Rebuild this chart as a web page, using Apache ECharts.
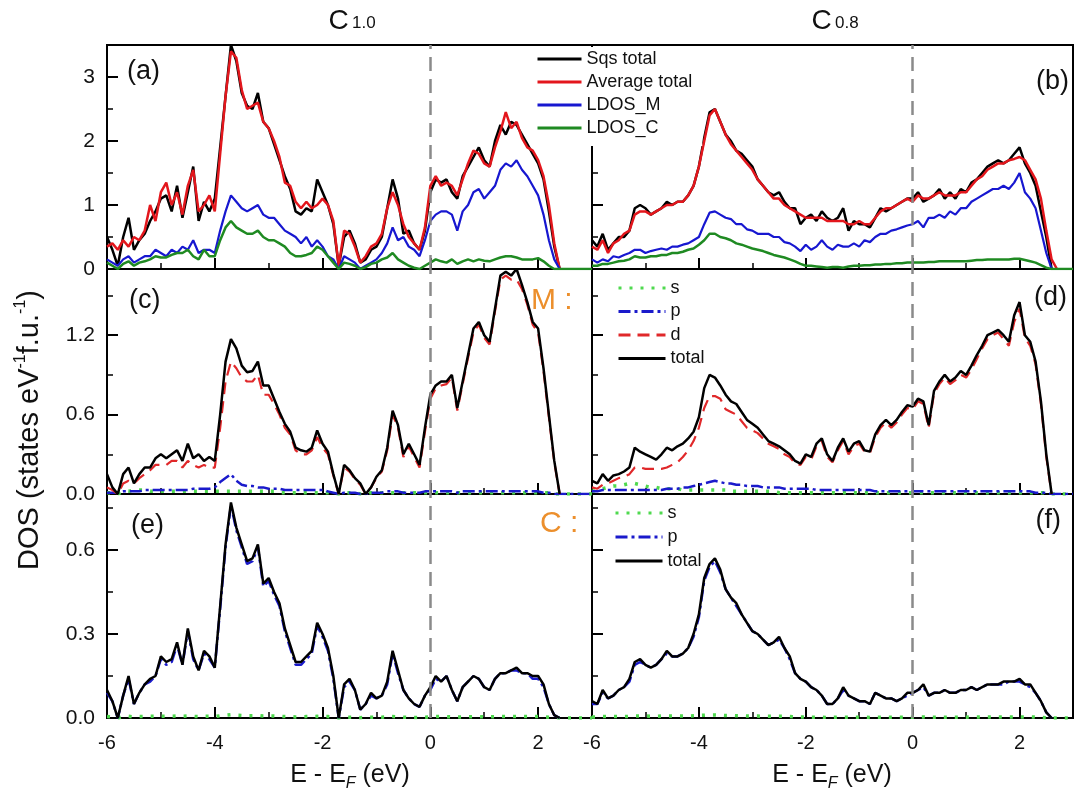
<!DOCTYPE html>
<html>
<head>
<meta charset="utf-8">
<script src="https://cdn.jsdelivr.net/npm/echarts@6/dist/echarts.min.js"></script>
<style>html,body{margin:0;padding:0;background:#fff;}#chart{width:1077px;height:803px;}</style>
</head>
<body>
<div id="chart"></div>
<script>
// Energy grid (E - E_F, eV)
const E = [-6.0,-5.9,-5.8,-5.7,-5.6,-5.5,-5.4,-5.3,-5.2,-5.1,
 -5.0,-4.9,-4.8,-4.7,-4.6,-4.5,-4.4,-4.3,-4.2,-4.1,
 -4.0,-3.9,-3.8,-3.7,-3.6,-3.5,-3.4,-3.3,-3.2,-3.1,
 -3.0,-2.9,-2.8,-2.7,-2.6,-2.5,-2.4,-2.3,-2.2,-2.1,
 -2.0,-1.9,-1.8,-1.7,-1.6,-1.5,-1.4,-1.3,-1.2,-1.1,
 -1.0,-0.9,-0.8,-0.7,-0.6,-0.5,-0.4,-0.3,-0.2,-0.1,
 0.0,0.1,0.2,0.3,0.4,0.5,0.6,0.7,0.8,0.9,
 1.0,1.1,1.2,1.3,1.4,1.5,1.6,1.7,1.8,1.9,
 2.0,2.1,2.2,2.3,2.4,2.5,2.6,2.7,2.8,2.9,3.0];

// x tick labels / y tick settings
const xTickLabels = ['-6','-4','-2','0','2'];
const yMax = [3.5, 1.7, 0.8];
const yMajor = [1, 0.6, 0.3];
const yMinor = [0.5, 0.3, 0.15];
const yDecimals = [0, 1, 1];

// (a) C1.0 totals
const aSqs = [0.5,0.3,0.05,0.5,0.8,0.3,0.45,0.55,0.75,0.9,
 1.1,1.15,0.9,1.3,0.8,1.2,1.6,0.75,1.05,0.9,
 1.1,1.9,2.7,3.5,3.25,2.75,2.55,2.5,2.75,2.3,
 2.2,1.95,1.7,1.45,1.25,0.9,0.85,0.95,0.9,1.4,
 1.2,1.0,0.7,0.05,0.5,0.6,0.4,0.1,0.15,0.3,
 0.35,0.5,0.95,1.4,1.1,0.55,0.6,0.4,0.3,0.6,
 1.2,1.4,1.35,1.4,1.2,1.1,1.45,1.6,1.75,1.9,
 1.7,1.6,2.0,2.25,2.1,2.3,2.25,2.1,1.95,1.8,
 1.65,1.4,0.9,0.35,0.0];
const aAvg = [0.35,0.4,0.3,0.45,0.35,0.5,0.45,0.6,1.0,0.75,
 1.2,1.35,1.0,1.2,0.85,1.3,1.55,0.9,1.0,1.15,
 0.9,1.8,2.7,3.4,3.3,2.8,2.5,2.55,2.6,2.3,
 2.2,2.0,1.75,1.35,1.3,1.05,0.95,1.05,0.95,1.0,
 1.1,1.0,0.75,0.05,0.6,0.55,0.35,0.1,0.2,0.35,
 0.4,0.55,0.95,1.2,1.0,0.7,0.5,0.4,0.3,0.65,
 1.3,1.45,1.3,1.35,1.3,1.15,1.4,1.65,1.85,1.8,
 1.65,1.6,1.9,2.15,2.45,2.2,2.3,2.05,1.9,1.85,
 1.7,1.45,1.0,0.4,0.0];
const aM = [0.15,0.1,0.05,0.15,0.2,0.1,0.15,0.2,0.2,0.3,
 0.25,0.2,0.3,0.25,0.35,0.3,0.45,0.25,0.3,0.3,
 0.25,0.6,0.9,1.15,1.05,0.95,0.9,0.95,1.0,0.85,
 0.8,0.8,0.7,0.6,0.55,0.5,0.4,0.5,0.35,0.45,
 0.35,0.2,0.15,0.0,0.2,0.15,0.1,0.0,0.05,0.1,
 0.15,0.25,0.4,0.65,0.45,0.5,0.35,0.3,0.2,0.45,
 0.75,0.85,0.9,0.9,0.85,0.6,0.9,1.0,1.2,1.25,
 1.1,1.2,1.3,1.55,1.65,1.6,1.7,1.55,1.45,1.3,
 1.15,0.85,0.45,0.15,0.0];
const aC = [0.1,0.05,0.0,0.08,0.12,0.05,0.1,0.12,0.15,0.2,
 0.18,0.18,0.22,0.25,0.25,0.3,0.2,0.15,0.3,0.2,
 0.2,0.45,0.65,0.75,0.65,0.6,0.55,0.55,0.6,0.5,
 0.45,0.45,0.4,0.35,0.25,0.2,0.2,0.22,0.25,0.35,
 0.3,0.2,0.1,0.0,0.1,0.08,0.05,0.0,0.03,0.08,
 0.1,0.15,0.18,0.25,0.15,0.1,0.05,0.02,0.0,0.05,
 0.1,0.15,0.12,0.1,0.15,0.08,0.12,0.15,0.12,0.15,
 0.13,0.12,0.15,0.18,0.2,0.2,0.18,0.15,0.15,0.15,
 0.17,0.12,0.05,0.0,0,0,0,0,0,0,0];

// (b) C0.8 totals
const bSqs = [0.45,0.35,0.55,0.3,0.4,0.5,0.5,0.6,0.95,1.0,
 0.95,0.85,0.9,0.95,1.05,1.0,1.05,1.05,1.15,1.3,
 1.6,2.05,2.45,2.5,2.3,2.1,2.0,1.85,1.8,1.7,
 1.6,1.4,1.3,1.2,1.15,1.2,1.05,0.95,0.95,0.7,
 0.8,0.85,0.75,0.9,0.8,0.75,0.8,0.95,0.6,0.75,
 0.7,0.7,0.65,0.8,0.95,0.9,0.95,1.0,1.05,1.1,
 1.1,1.2,1.05,1.1,1.15,1.25,1.1,1.2,1.1,1.25,
 1.2,1.35,1.4,1.5,1.6,1.65,1.7,1.65,1.7,1.8,
 1.9,1.65,1.5,1.3,0.9,0.5,0.0];
const bAvg = [0.35,0.3,0.45,0.25,0.4,0.45,0.55,0.6,0.85,0.9,
 0.9,0.85,0.9,0.95,1.0,1.0,1.05,1.05,1.15,1.3,
 1.6,2.0,2.4,2.5,2.3,2.1,1.95,1.85,1.75,1.65,
 1.55,1.4,1.3,1.2,1.1,1.1,1.0,0.95,0.9,0.85,
 0.8,0.8,0.8,0.8,0.75,0.75,0.75,0.75,0.7,0.7,
 0.75,0.7,0.7,0.8,0.9,0.95,0.95,1.0,1.05,1.1,
 1.05,1.15,1.1,1.1,1.15,1.2,1.15,1.15,1.15,1.2,
 1.2,1.3,1.4,1.45,1.55,1.6,1.65,1.65,1.7,1.72,
 1.75,1.7,1.55,1.4,1.1,0.6,0.15,0.0];
const bM = [0.15,0.1,0.15,0.12,0.2,0.18,0.22,0.25,0.3,0.3,
 0.25,0.28,0.3,0.32,0.3,0.35,0.35,0.38,0.4,0.45,
 0.5,0.7,0.88,0.9,0.85,0.8,0.78,0.7,0.7,0.62,
 0.6,0.55,0.55,0.55,0.5,0.5,0.42,0.4,0.35,0.28,
 0.38,0.3,0.35,0.45,0.35,0.3,0.38,0.35,0.35,0.4,
 0.35,0.45,0.42,0.5,0.55,0.55,0.6,0.62,0.65,0.68,
 0.7,0.75,0.65,0.8,0.8,0.85,0.8,0.9,0.85,0.95,
 0.95,1.05,1.1,1.15,1.2,1.25,1.25,1.3,1.25,1.35,
 1.5,1.2,1.1,0.95,0.6,0.25,0.0];
const bC = [0.05,0.05,0.08,0.08,0.1,0.12,0.13,0.15,0.2,0.18,
 0.18,0.2,0.2,0.22,0.22,0.25,0.25,0.27,0.3,0.32,
 0.38,0.45,0.55,0.55,0.5,0.48,0.45,0.4,0.38,0.35,
 0.32,0.3,0.28,0.25,0.22,0.2,0.18,0.15,0.12,0.08,
 0.05,0.05,0.04,0.03,0.02,0.03,0.03,0.02,0.04,0.05,
 0.05,0.06,0.06,0.07,0.07,0.08,0.08,0.09,0.09,0.1,
 0.1,0.1,0.1,0.11,0.11,0.12,0.12,0.12,0.12,0.12,
 0.12,0.13,0.14,0.14,0.15,0.15,0.15,0.15,0.15,0.16,
 0.16,0.14,0.12,0.1,0.06,0.02,0,0,0,0,0];

// (c) M in C1.0
const cS = [0.01,0.01,0.0,0.02,0.02,0.03,0.03,0.03,0.02,0.02,
 0.02,0.02,0.02,0.02,0.02,0.02,0.02,0.02,0.02,0.02,
 0.02,0.02,0.02,0.02,0.02,0.02,0.02,0.02,0.02,0.02,
 0.02,0.02,0.01,0.01,0.01,0.01,0.01,0.01,0.01,0.01,
 0.01,0.01,0.01,0.0,0.01,0.01,0.01,0.0,0.0,0.01,
 0.01,0.01,0.01,0.01,0.01,0.01,0.01,0.01,0.01,0.01,
 0.01,0.01,0.01,0.01,0.01,0.01,0.01,0.01,0.01,0.01,
 0.01,0.01,0.01,0.01,0.01,0.01,0.01,0.01,0.01,0.01,
 0.01,0.01,0.01,0.0,0,0,0,0,0,0,0];
const cP = [0.01,0.01,0.01,0.02,0.02,0.02,0.02,0.03,0.03,0.03,
 0.03,0.03,0.03,0.03,0.03,0.03,0.04,0.04,0.04,0.04,
 0.05,0.09,0.12,0.15,0.1,0.07,0.06,0.06,0.05,0.05,
 0.04,0.04,0.04,0.03,0.03,0.03,0.03,0.03,0.03,0.03,
 0.03,0.02,0.01,0.0,0.01,0.01,0.01,0.0,0.0,0.01,
 0.01,0.01,0.02,0.02,0.02,0.01,0.01,0.01,0.01,0.02,
 0.02,0.02,0.02,0.02,0.02,0.01,0.02,0.02,0.02,0.02,
 0.02,0.02,0.02,0.02,0.02,0.02,0.02,0.02,0.02,0.02,
 0.02,0.01,0.01,0.0,0,0,0,0,0,0,0];
const cD = [0.05,0.03,0.0,0.08,0.1,0.08,0.12,0.15,0.18,0.22,
 0.22,0.22,0.25,0.25,0.2,0.25,0.22,0.2,0.22,0.2,
 0.2,0.5,0.85,1.0,0.95,0.88,0.85,0.85,0.9,0.75,
 0.75,0.68,0.6,0.5,0.45,0.33,0.3,0.3,0.33,0.43,
 0.35,0.3,0.14,0.0,0.2,0.17,0.11,0.07,0.0,0.05,
 0.12,0.17,0.33,0.6,0.5,0.28,0.36,0.28,0.2,0.47,
 0.72,0.8,0.82,0.83,0.88,0.63,0.83,1.03,1.22,1.28,
 1.18,1.13,1.38,1.62,1.65,1.62,1.62,1.55,1.43,1.28,
 1.22,0.93,0.58,0.24,0.0];
const cTot = [0.15,0.05,0.0,0.15,0.2,0.08,0.15,0.2,0.2,0.27,
 0.3,0.27,0.3,0.33,0.25,0.38,0.27,0.3,0.25,0.28,
 0.25,0.6,1.0,1.17,1.1,0.97,0.92,0.93,1.0,0.82,
 0.82,0.72,0.62,0.53,0.47,0.35,0.33,0.32,0.35,0.48,
 0.38,0.32,0.15,0.0,0.22,0.18,0.12,0.08,0.0,0.05,
 0.13,0.18,0.35,0.63,0.52,0.3,0.38,0.3,0.22,0.5,
 0.75,0.82,0.85,0.85,0.9,0.65,0.85,1.05,1.25,1.3,
 1.2,1.15,1.4,1.65,1.68,1.65,1.7,1.58,1.45,1.3,
 1.25,0.95,0.6,0.25,0.0];

// (d) M in C0.8
const dS = [0.02,0.03,0.04,0.05,0.06,0.06,0.07,0.08,0.08,0.07,
 0.06,0.05,0.05,0.04,0.04,0.04,0.04,0.03,0.03,0.03,
 0.03,0.03,0.03,0.03,0.03,0.03,0.02,0.02,0.02,0.02,
 0.02,0.02,0.02,0.02,0.02,0.01,0.01,0.01,0.01,0.01,
 0.01,0.01,0.01,0.01,0.01,0.01,0.01,0.01,0.01,0.01,
 0.01,0.01,0.01,0.01,0.01,0.01,0.01,0.01,0.01,0.01,
 0.01,0.01,0.01,0.01,0.01,0.01,0.01,0.01,0.01,0.01,
 0.01,0.01,0.01,0.01,0.01,0.01,0.01,0.01,0.01,0.01,
 0.01,0.01,0.01,0.01,0.01,0.01,0.0,0,0,0,0];
const dP = [0.02,0.02,0.03,0.03,0.03,0.03,0.03,0.03,0.03,0.03,
 0.03,0.03,0.03,0.03,0.04,0.04,0.04,0.05,0.05,0.06,
 0.07,0.08,0.09,0.1,0.09,0.08,0.08,0.07,0.07,0.06,
 0.06,0.06,0.05,0.05,0.05,0.05,0.04,0.04,0.04,0.04,
 0.04,0.04,0.03,0.03,0.03,0.03,0.03,0.03,0.03,0.03,
 0.03,0.03,0.03,0.02,0.02,0.02,0.02,0.02,0.02,0.02,
 0.02,0.02,0.02,0.02,0.02,0.02,0.02,0.02,0.02,0.02,
 0.02,0.02,0.02,0.02,0.02,0.02,0.02,0.02,0.02,0.02,
 0.02,0.02,0.02,0.01,0.01,0.01,0.0,0,0,0,0];
const dD = [0.05,0.04,0.07,0.08,0.1,0.12,0.13,0.15,0.2,0.2,
 0.19,0.19,0.19,0.19,0.2,0.22,0.24,0.28,0.33,0.4,
 0.5,0.65,0.74,0.74,0.72,0.64,0.62,0.6,0.55,0.5,
 0.48,0.46,0.42,0.38,0.36,0.34,0.3,0.28,0.23,0.22,
 0.28,0.26,0.36,0.4,0.28,0.24,0.33,0.4,0.3,0.36,
 0.38,0.32,0.31,0.43,0.5,0.54,0.5,0.54,0.6,0.65,
 0.64,0.7,0.68,0.5,0.76,0.83,0.88,0.83,0.86,0.9,
 0.88,0.94,1.02,1.1,1.17,1.2,1.22,1.17,1.12,1.3,
 1.4,1.18,1.12,0.98,0.68,0.28,0.0];
const dTot = [0.1,0.08,0.15,0.1,0.14,0.15,0.17,0.2,0.35,0.32,
 0.3,0.28,0.26,0.3,0.35,0.33,0.36,0.38,0.42,0.47,
 0.58,0.8,0.9,0.88,0.82,0.75,0.7,0.68,0.62,0.56,
 0.53,0.5,0.45,0.4,0.38,0.36,0.33,0.3,0.25,0.23,
 0.3,0.28,0.38,0.42,0.3,0.25,0.35,0.42,0.32,0.38,
 0.4,0.33,0.32,0.45,0.52,0.56,0.52,0.56,0.62,0.67,
 0.66,0.72,0.7,0.52,0.78,0.85,0.9,0.85,0.88,0.93,
 0.9,0.97,1.05,1.12,1.2,1.22,1.24,1.2,1.15,1.35,
 1.45,1.2,1.15,1.0,0.7,0.3,0.0];

// (e) C in C1.0
const eS = [0.005,0.004,0.0,0.005,0.006,0.004,0.005,0.005,0.006,0.006,
 0.006,0.006,0.006,0.007,0.006,0.007,0.006,0.005,0.006,0.006,
 0.005,0.008,0.01,0.012,0.01,0.009,0.008,0.008,0.009,0.007,
 0.007,0.007,0.006,0.005,0.005,0.004,0.004,0.005,0.005,0.006,
 0.005,0.005,0.003,0.0,0.003,0.003,0.003,0.001,0.002,0.003,
 0.003,0.003,0.004,0.005,0.004,0.003,0.002,0.002,0.002,0.003,
 0.004,0.005,0.005,0.005,0.004,0.003,0.004,0.004,0.005,0.005,
 0.004,0.004,0.005,0.005,0.005,0.005,0.005,0.005,0.005,0.005,
 0.005,0.004,0.003,0.001,0.0,0,0,0,0,0,0];
const eP = [0.09,0.06,0.0,0.08,0.14,0.05,0.09,0.12,0.13,0.15,
 0.21,0.19,0.2,0.26,0.19,0.31,0.21,0.17,0.23,0.21,
 0.18,0.39,0.61,0.76,0.67,0.61,0.55,0.56,0.61,0.47,
 0.49,0.44,0.4,0.31,0.25,0.19,0.19,0.21,0.23,0.33,
 0.29,0.24,0.14,0.0,0.11,0.13,0.1,0.03,0.05,0.08,
 0.07,0.08,0.12,0.23,0.16,0.1,0.07,0.05,0.04,0.08,
 0.1,0.14,0.13,0.15,0.1,0.06,0.11,0.13,0.15,0.14,
 0.11,0.1,0.14,0.16,0.16,0.17,0.17,0.16,0.16,0.14,
 0.14,0.11,0.05,0.01,0.0];
const eTot = [0.1,0.06,0.0,0.08,0.15,0.05,0.09,0.12,0.14,0.15,
 0.22,0.2,0.21,0.27,0.19,0.32,0.22,0.17,0.24,0.22,
 0.18,0.4,0.62,0.77,0.68,0.62,0.56,0.57,0.62,0.48,
 0.5,0.45,0.41,0.32,0.26,0.2,0.2,0.22,0.24,0.34,
 0.3,0.25,0.15,0.0,0.12,0.14,0.1,0.03,0.05,0.09,
 0.07,0.08,0.13,0.24,0.17,0.1,0.07,0.05,0.04,0.08,
 0.11,0.15,0.13,0.15,0.1,0.06,0.11,0.13,0.15,0.14,
 0.11,0.1,0.14,0.16,0.16,0.17,0.18,0.16,0.16,0.15,
 0.15,0.12,0.05,0.01,0.0];

// (f) C in C0.8
const fS = [0.004,0.004,0.005,0.005,0.005,0.005,0.005,0.006,0.007,0.007,
 0.007,0.006,0.006,0.007,0.007,0.007,0.007,0.007,0.007,0.008,
 0.009,0.01,0.011,0.011,0.01,0.009,0.009,0.008,0.008,0.007,
 0.007,0.007,0.006,0.006,0.006,0.006,0.006,0.005,0.004,0.004,
 0.004,0.003,0.003,0.003,0.002,0.002,0.003,0.003,0.003,0.003,
 0.003,0.003,0.002,0.003,0.003,0.003,0.003,0.003,0.003,0.003,
 0.003,0.003,0.004,0.003,0.003,0.003,0.003,0.003,0.003,0.003,
 0.003,0.004,0.004,0.004,0.004,0.004,0.004,0.004,0.004,0.004,
 0.004,0.004,0.004,0.003,0.002,0.001,0.0,0,0,0,0];
const fP = [0.05,0.05,0.09,0.07,0.08,0.1,0.11,0.13,0.19,0.2,
 0.19,0.18,0.19,0.21,0.23,0.22,0.22,0.23,0.25,0.29,
 0.36,0.49,0.54,0.56,0.52,0.46,0.43,0.4,0.37,0.34,
 0.31,0.3,0.28,0.26,0.27,0.28,0.25,0.21,0.16,0.14,
 0.13,0.11,0.1,0.08,0.05,0.05,0.07,0.1,0.08,0.07,
 0.06,0.06,0.05,0.09,0.08,0.07,0.07,0.06,0.07,0.08,
 0.09,0.1,0.11,0.08,0.09,0.09,0.1,0.09,0.09,0.1,
 0.1,0.11,0.1,0.11,0.12,0.12,0.12,0.12,0.13,0.13,
 0.13,0.12,0.11,0.09,0.06,0.02,0.0];
const fTot = [0.06,0.05,0.1,0.07,0.08,0.1,0.11,0.14,0.2,0.21,
 0.19,0.18,0.19,0.21,0.24,0.22,0.22,0.23,0.25,0.3,
 0.37,0.5,0.55,0.57,0.53,0.46,0.43,0.41,0.37,0.34,
 0.31,0.3,0.28,0.26,0.27,0.29,0.25,0.22,0.16,0.14,
 0.13,0.11,0.1,0.08,0.05,0.05,0.07,0.11,0.08,0.07,
 0.06,0.06,0.05,0.09,0.08,0.07,0.07,0.06,0.07,0.09,
 0.09,0.1,0.12,0.08,0.09,0.09,0.1,0.09,0.09,0.1,
 0.1,0.11,0.1,0.11,0.12,0.12,0.12,0.13,0.13,0.13,
 0.14,0.12,0.12,0.09,0.06,0.02,0.0];

const FONT = "'Liberation Sans', Arial, Helvetica, sans-serif";

const STYLE = {
  'Sqs total': {color:'#000000', width:2.5, type:'solid'},
  'Average total': {color:'#e3161c', width:2.5, type:'solid'},
  'LDOS_M': {color:'#1717d0', width:2.2, type:'solid'},
  'LDOS_C': {color:'#1f8a22', width:2.5, type:'solid'},
  's': {color:'#4fd94f', width:3.5, type:[3,8]},
  'p': {color:'#1a1acb', width:2.5, type:[12,4,3,4]},
  'd': {color:'#e0282a', width:2.2, type:[12,7]},
  'total': {color:'#000000', width:2.5, type:'solid'}
};

const GRIDS = [
  {left:107, top:45,  width:485, height:224},
  {left:592, top:45,  width:481, height:224},
  {left:107, top:269, width:485, height:225},
  {left:592, top:269, width:481, height:225},
  {left:107, top:494, width:485, height:224},
  {left:592, top:494, width:481, height:224}
];

const xAxes = [], yAxes = [];
GRIDS.forEach((g, gi) => {
  const row = Math.floor(gi / 2), leftCol = gi % 2 === 0, bottomRow = row === 2;
  xAxes.push({
    type:'value', gridIndex:gi, min:-6, max:3, interval:2, position:'bottom',
    axisLine:{show:true, onZero:false, lineStyle:{color:'#000', width:2}},
    axisTick:{show:true, inside:true, length:11, lineStyle:{color:'#000', width:2}},
    axisLabel:{show:bottomRow, showMaxLabel:false, fontSize:20, color:'#111', fontFamily:FONT, margin:15,
      formatter: v => { const i = [-6,-4,-2,0,2].indexOf(v); return i >= 0 ? xTickLabels[i] : ''; }},
    splitLine:{show:false}
  });
  xAxes.push({
    type:'value', gridIndex:gi, min:-6, max:3, interval:1, position:'bottom',
    axisLine:{show:false, onZero:false},
    axisTick:{show:true, inside:true, length:6, lineStyle:{color:'#000', width:1.5}},
    axisLabel:{show:false}, splitLine:{show:false}
  });
  yAxes.push({
    type:'value', gridIndex:gi, min:0, max:yMax[row], interval:yMajor[row], position:'left',
    axisLine:{show:true, onZero:false, lineStyle:{color:'#000', width:2}},
    axisTick:{show:true, inside:true, length:11, lineStyle:{color:'#000', width:2}},
    axisLabel:{show:leftCol, showMaxLabel:false, fontSize:21, color:'#111', fontFamily:FONT, margin:12,
      formatter: v => v.toFixed(yDecimals[row])},
    splitLine:{show:false}
  });
  yAxes.push({
    type:'value', gridIndex:gi, min:0, max:yMax[row], interval:yMinor[row], position:'left',
    axisLine:{show:false, onZero:false},
    axisTick:{show:true, inside:true, length:6, lineStyle:{color:'#000', width:1.5}},
    axisLabel:{show:false}, splitLine:{show:false}
  });
});

const series = [];
function addLine(name, vals, gi, withZeroLine) {
  const st = STYLE[name];
  const s = {
    type:'line', name:name, xAxisIndex:gi*2, yAxisIndex:gi*2,
    data: vals.map((v, i) => [E[i], v]),
    symbol:'none', showSymbol:false, smooth:false, animation:false, silent:true,
    itemStyle:{color:st.color},
    lineStyle:{color:st.color, width:st.width, type:st.type}
  };
  if (withZeroLine) {
    s.markLine = {
      silent:true, symbol:['none','none'], label:{show:false}, animation:false,
      lineStyle:{color:'#8a8a8a', type:[14,8], width:2.5},
      data:[{xAxis:0}]
    };
  }
  series.push(s);
}
addLine('Sqs total', aSqs, 0, true);
addLine('Average total', aAvg, 0);
addLine('LDOS_M', aM, 0);
addLine('LDOS_C', aC, 0);
addLine('Sqs total', bSqs, 1, true);
addLine('Average total', bAvg, 1);
addLine('LDOS_M', bM, 1);
addLine('LDOS_C', bC, 1);
addLine('s', cS, 2, true);
addLine('p', cP, 2);
addLine('d', cD, 2);
addLine('total', cTot, 2);
addLine('s', dS, 3, true);
addLine('p', dP, 3);
addLine('d', dD, 3);
addLine('total', dTot, 3);
addLine('s', eS, 4, true);
addLine('p', eP, 4);
addLine('total', eTot, 4);
addLine('s', fS, 5, true);
addLine('p', fP, 5);
addLine('total', fTot, 5);

function txt(text, x, y, size, align, color) {
  return {type:'text', x:x, y:y, silent:true, z:10,
    style:{text:text, fontSize:size, fontFamily:FONT, fill:color || '#111', align:align || 'left', verticalAlign:'middle'}};
}
function richTitle(big, small, x, y) {
  return {type:'text', x:x, y:y, silent:true, z:10,
    style:{text:'{c|' + big + '} {n|' + small + '}', align:'center', verticalAlign:'middle',
      rich:{c:{fontSize:28, fontFamily:FONT, fill:'#111', verticalAlign:'bottom', lineHeight:30},
            n:{fontSize:17, fontFamily:FONT, fill:'#111', verticalAlign:'bottom', lineHeight:30, padding:[0,0,3,0]}}}};
}
function xTitle(x) {
  return {type:'text', x:x, y:775, silent:true, z:10,
    style:{text:'{m|E - E}{s|F}{m| (eV)}', align:'center', verticalAlign:'middle',
      rich:{m:{fontSize:25, fontFamily:FONT, fill:'#111', verticalAlign:'middle'},
            s:{fontSize:16, fontFamily:FONT, fontStyle:'italic', fill:'#111', verticalAlign:'bottom', lineHeight:34}}}};
}

const graphic = [
  richTitle('C', '1.0', 352, 20),
  richTitle('C', '0.8', 835, 20),
  txt('(a)', 127, 72, 27),
  txt('(b)', 1069, 82, 27, 'right'),
  txt('(c)', 129, 301, 27),
  txt('(d)', 1067, 298, 27, 'right'),
  txt('(e)', 131, 526, 27),
  txt('(f)', 1061, 521, 27, 'right'),
  txt('M :', 531, 301, 30, 'left', '#ec8f2c'),
  txt('C :', 540, 524, 30, 'left', '#ec8f2c'),
  xTitle(350),
  xTitle(832),
  {type:'text', x:30, y:430, rotation:Math.PI/2, silent:true, z:10,
    style:{text:'{m|DOS (states eV}{u|-1}{m|f.u.}{u|-1}{m|)}', align:'center', verticalAlign:'middle',
      rich:{m:{fontSize:29, fontFamily:FONT, fill:'#111', verticalAlign:'middle'},
            u:{fontSize:16, fontFamily:FONT, fill:'#111', verticalAlign:'top', lineHeight:35}}}}
];

const legendText = {fontSize:18, fontFamily:FONT, color:'#111'};
const hiddenSymbol = {opacity:0, borderWidth:0};
const legendLine = {width:3};
const option = {
  animation:false,
  backgroundColor:'#ffffff',
  grid: GRIDS.map(g => Object.assign({show:true, borderColor:'#000', borderWidth:2, backgroundColor:'transparent', containLabel:false}, g)),
  xAxis: xAxes,
  yAxis: yAxes,
  legend: [
    {data:['Sqs total','Average total','LDOS_M','LDOS_C'], orient:'vertical', left:533, top:47,
     itemWidth:44, itemHeight:14, itemGap:5, padding:[3,10,9,3], backgroundColor:'#ffffff',
     itemStyle:hiddenSymbol, lineStyle:legendLine, textStyle:legendText, selectedMode:false},
    {data:['s','p','d','total'], orient:'vertical', left:614, top:276,
     itemWidth:47, itemHeight:14, itemGap:5.5, padding:3,
     itemStyle:hiddenSymbol, lineStyle:legendLine, textStyle:legendText, selectedMode:false},
    {data:['s','p','total'], orient:'vertical', left:611, top:501,
     itemWidth:47, itemHeight:14, itemGap:6, padding:3,
     itemStyle:hiddenSymbol, lineStyle:legendLine, textStyle:legendText, selectedMode:false}
  ],
  graphic: graphic,
  series: series
};

const chart = echarts.init(document.getElementById('chart'), null, {renderer:'canvas'});
chart.setOption(option);
</script>
</body>
</html>
